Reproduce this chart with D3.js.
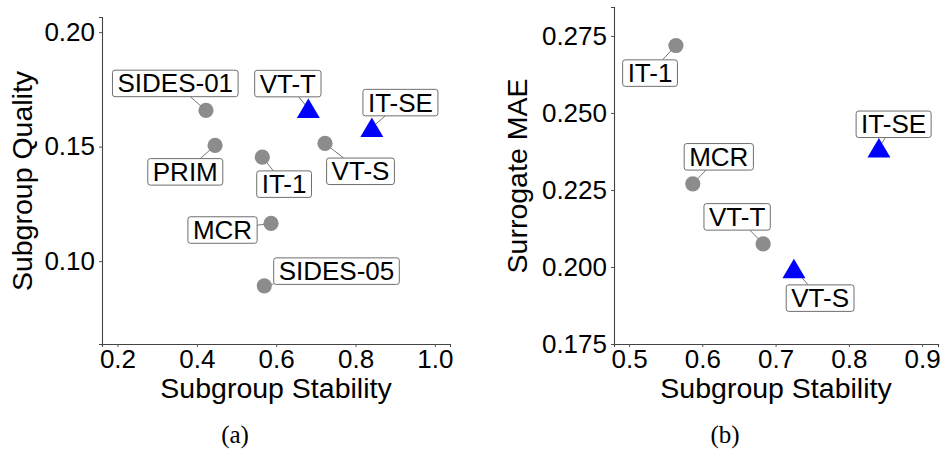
<!DOCTYPE html>
<html>
<head>
<meta charset="utf-8">
<script src="https://cdn.jsdelivr.net/npm/d3@7/dist/d3.min.js"></script>
<style>
  html, body { margin: 0; padding: 0; background: #fff; }
  svg { display: block; }
  text { font-family: "Liberation Sans", Arial, Helvetica, sans-serif; }
</style>
</head>
<body>
<svg id="chart" width="944" height="450"></svg>
<script>
// Panel (a): subgroup stability vs subgroup quality
const methodsA   = ["SIDES-01", "PRIM", "IT-1", "MCR", "SIDES-05", "VT-S", "VT-T", "IT-SE"];
const stabilityA = [0.423, 0.446, 0.565, 0.587, 0.570, 0.723, 0.681, 0.841];
const qualityA   = [0.1658, 0.1505, 0.1454, 0.1165, 0.0892, 0.1514, 0.1666, 0.1583];
const shapeA     = ["circle", "circle", "circle", "circle", "circle", "circle", "triangle", "triangle"];

// Panel (b): subgroup stability vs surrogate MAE
const methodsB   = ["IT-1", "MCR", "VT-T", "VT-S", "IT-SE"];
const stabilityB = [0.564, 0.587, 0.683, 0.725, 0.841];
const maeB       = [0.2719, 0.2270, 0.2075, 0.1994, 0.2386];
const shapeB     = ["circle", "circle", "circle", "triangle", "triangle"];

const ticksXA = [0.2, 0.4, 0.6, 0.8, 1.0];
const ticksYA = [0.10, 0.15, 0.20];
const ticksXB = [0.5, 0.6, 0.7, 0.8, 0.9];
const ticksYB = [0.175, 0.200, 0.225, 0.250, 0.275];

// Repelled label placement (offset of label centre from its point, px)
const nudgeA = [[-30.7, -27], [-29.8, 26.4], [21.8, 27], [-48.5, 6.7], [72.2, -14.7], [35.5, 27.9], [-20.5, -25], [28.6, -25]];
const nudgeB = [[-25.9, 27.6], [26, -27], [-26, -27], [26.2, 29.3], [14.7, -23.8]];

const svg = d3.select("#chart");
const GREY = "#8c8c8c";
const BLUE = "#0000ff";

function panel(cfg) {
  const x = d3.scaleLinear().domain(cfg.xDomain).range(cfg.xRange);
  const y = d3.scaleLinear().domain(cfg.yDomain).range(cfg.yRange);
  const g = svg.append("g");

  // axes
  const ax = g.append("g")
    .attr("transform", `translate(0,${cfg.yRange[0]})`)
    .call(d3.axisBottom(x).tickValues(cfg.xTicks).tickFormat(d3.format(cfg.xFmt))
      .tickSizeOuter(0).tickSize(3).tickPadding(3));
  const ay = g.append("g")
    .attr("transform", `translate(${cfg.xRange[0]},0)`)
    .call(d3.axisLeft(y).tickValues(cfg.yTicks).tickFormat(d3.format(cfg.yFmt))
      .tickSizeOuter(0).tickSize(3).tickPadding(4));
  [ax, ay].forEach(a => {
    a.select(".domain").attr("stroke", "#444").attr("stroke-width", 1.1);
    a.selectAll(".tick line").attr("stroke", "#555").attr("stroke-width", 1);
    a.selectAll(".tick text").attr("fill", "#000")
      .style("font-size", "26px").style("font-family", "'Liberation Sans', Arial, sans-serif");
  });

  // axis titles
  g.append("text")
    .attr("x", cfg.xTitlePos[0]).attr("y", cfg.xTitlePos[1])
    .attr("text-anchor", "middle").style("font-size", "28.5px").text(cfg.xTitle);
  g.append("text")
    .attr("transform", `translate(${cfg.yTitlePos[0]},${cfg.yTitlePos[1]}) rotate(-90)`)
    .attr("text-anchor", "middle").attr("dy", "0.35em").style("font-size", "28.5px").text(cfg.yTitle);

  // caption
  g.append("text")
    .attr("x", cfg.capPos[0]).attr("y", cfg.capPos[1])
    .attr("text-anchor", "middle")
    .style("font-family", "'Liberation Serif', 'DejaVu Serif', serif")
    .style("font-size", "25px").text(cfg.caption);

  const data = cfg.names.map((n, i) => ({
    name: n, px: x(cfg.xs[i]), py: y(cfg.ys[i]), shape: cfg.shapes[i],
    lx: x(cfg.xs[i]) + cfg.nudge[i][0], ly: y(cfg.ys[i]) + cfg.nudge[i][1]
  }));

  // measure label boxes
  const labels = g.append("g");
  const lab = labels.selectAll("g").data(data).join("g");
  lab.append("text")
    .attr("x", d => d.lx).attr("y", d => d.ly + 9)
    .attr("text-anchor", "middle").style("font-size", "26px").attr("fill", "#000")
    .text(d => d.name)
    .each(function (d) { d.w = this.getComputedTextLength() + 10; d.h = 26.5; });

  // leader segments from the box edge to the point
  const segs = g.insert("g", ":first-child");
  data.forEach(d => {
    const dx = d.px - d.lx, dy = d.py - d.ly;
    const t = Math.min(Math.abs((d.w / 2) / (dx || 1e-9)), Math.abs((d.h / 2) / (dy || 1e-9)));
    const sx = d.lx + dx * t, sy = d.ly + dy * t;
    const len = Math.hypot(d.px - sx, d.py - sy);
    if (len > 4) {
      segs.append("line")
        .attr("x1", sx).attr("y1", sy).attr("x2", d.px).attr("y2", d.py)
        .attr("stroke", "#777").attr("stroke-width", 1);
    }
  });

  // points
  const pts = g.insert("g", "g:nth-child(2)");
  pts.selectAll("circle").data(data.filter(d => d.shape === "circle")).join("circle")
    .attr("cx", d => d.px).attr("cy", d => d.py).attr("r", 7.6).attr("fill", GREY);
  pts.selectAll("path").data(data.filter(d => d.shape === "triangle")).join("path")
    .attr("d", d => `M${d.px},${d.py - 10}L${d.px + 11.5},${d.py + 9.5}L${d.px - 11.5},${d.py + 9.5}Z`)
    .attr("fill", BLUE);

  // label boxes under the text
  lab.insert("rect", "text")
    .attr("x", d => d.lx - d.w / 2).attr("y", d => d.ly - d.h / 2)
    .attr("width", d => d.w).attr("height", d => d.h)
    .attr("rx", 2.5).attr("fill", "#fff").attr("stroke", "#6e6e6e").attr("stroke-width", 1);
  labels.raise();
}

panel({
  names: methodsA, xs: stabilityA, ys: qualityA, shapes: shapeA, nudge: nudgeA,
  xDomain: [0.161, 1.038], xRange: [102, 450],
  yDomain: [0.0638, 0.2066], yRange: [344, 17],
  xTicks: ticksXA, yTicks: ticksYA, xFmt: ".1f", yFmt: ".2f",
  xTitle: "Subgroup Stability", yTitle: "Subgroup Quality",
  xTitlePos: [276, 398], yTitlePos: [22, 181], capPos: [235, 443], caption: "(a)"
});

panel({
  names: methodsB, xs: stabilityB, ys: maeB, shapes: shapeB, nudge: nudgeB,
  xDomain: [0.4795, 0.9216], xRange: [614, 938],
  yDomain: [0.175, 0.2844], yRange: [344, 7],
  xTicks: ticksXB, yTicks: ticksYB, xFmt: ".1f", yFmt: ".3f",
  xTitle: "Subgroup Stability", yTitle: "Surrogate MAE",
  xTitlePos: [776, 398], yTitlePos: [517, 176], capPos: [725, 443], caption: "(b)"
});
</script>
</body>
</html>
